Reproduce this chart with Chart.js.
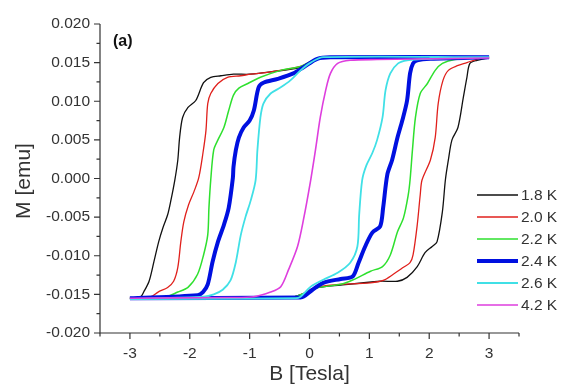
<!DOCTYPE html>
<html>
<head>
<meta charset="utf-8">
<script src="https://cdn.jsdelivr.net/npm/chart.js@4"></script>
<style>
  html, body { margin: 0; padding: 0; background: #fff; }
  canvas { display: block; }
</style>
</head>
<body>
<canvas id="loops" width="568" height="389"></canvas>
<script>
// temperatures (legend labels)
const temps = ["1.8 K", "2.0 K", "2.2 K", "2.4 K", "2.6 K", "4.2 K"];

// [B (T), M (emu)]; "Down" = sweep from +3 T to -3 T, "Up" = back
const loop18Down = [[3.0, 0.0157], [1.1, 0.0158], [0.3, 0.0157], [0.07, 0.0153], [-0.15, 0.0144], [-0.65, 0.0138], [-1.0, 0.0135], [-1.27, 0.0135], [-1.48, 0.0133], [-1.65, 0.0131], [-1.77, 0.0124], [-1.9, 0.0101], [-2.03, 0.0092], [-2.12, 0.0079], [-2.17, 0.0053], [-2.2, 0.0024], [-2.25, -0.0002], [-2.32, -0.003], [-2.37, -0.0047], [-2.45, -0.0064], [-2.52, -0.0082], [-2.6, -0.0108], [-2.68, -0.0133], [-2.77, -0.0147], [-2.82, -0.0153], [-3.0, -0.0155]];
const loop18Up = [[-3.0, -0.0155], [-0.32, -0.0154], [-0.1, -0.0149], [0.1, -0.0142], [0.52, -0.0138], [1.18, -0.0133], [1.47, -0.0133], [1.63, -0.0128], [1.8, -0.0114], [1.93, -0.0096], [2.05, -0.0088], [2.13, -0.0082], [2.22, -0.0043], [2.27, -0.0002], [2.32, 0.0024], [2.38, 0.005], [2.48, 0.0066], [2.57, 0.0105], [2.63, 0.0131], [2.68, 0.0149], [2.8, 0.0153], [3.0, 0.0156]];

const loop20Down = [[3.0, 0.0157], [0.3, 0.0157], [0.07, 0.0153], [-0.15, 0.0145], [-0.65, 0.0138], [-0.98, 0.0135], [-1.15, 0.0133], [-1.37, 0.0131], [-1.53, 0.0123], [-1.65, 0.011], [-1.7, 0.0097], [-1.73, 0.0062], [-1.78, 0.0033], [-1.85, 0.0001], [-1.93, -0.0017], [-2.02, -0.0034], [-2.1, -0.0056], [-2.15, -0.0082], [-2.2, -0.0115], [-2.27, -0.0133], [-2.37, -0.0141], [-2.53, -0.0147], [-2.65, -0.0153], [-3.0, -0.0155]];
const loop20Up = [[-3.0, -0.0155], [-0.32, -0.0154], [-0.1, -0.0149], [0.07, -0.0142], [0.35, -0.0138], [1.02, -0.0135], [1.23, -0.0132], [1.4, -0.0124], [1.57, -0.0115], [1.68, -0.0109], [1.73, -0.0099], [1.8, -0.006], [1.85, -0.0021], [1.88, -0.0002], [2.02, 0.0024], [2.1, 0.0053], [2.15, 0.0097], [2.23, 0.0127], [2.32, 0.014], [2.47, 0.0146], [2.63, 0.015], [2.82, 0.0155], [3.0, 0.0157]];

const loop22Down = [[3.0, 0.0157], [0.3, 0.0157], [0.07, 0.0153], [-0.15, 0.0145], [-0.48, 0.014], [-0.82, 0.0131], [-1.03, 0.0123], [-1.18, 0.0117], [-1.27, 0.0108], [-1.35, 0.0088], [-1.43, 0.0066], [-1.53, 0.005], [-1.6, 0.0037], [-1.65, -0.0002], [-1.68, -0.0038], [-1.7, -0.0073], [-1.77, -0.0099], [-1.87, -0.0124], [-2.03, -0.0141], [-2.2, -0.0147], [-2.4, -0.0153], [-3.0, -0.0155]];
const loop22Up = [[-3.0, -0.0155], [-0.32, -0.0154], [-0.1, -0.0149], [0.1, -0.0142], [0.52, -0.0137], [0.73, -0.0131], [1.02, -0.012], [1.22, -0.0114], [1.35, -0.0099], [1.47, -0.0069], [1.57, -0.0051], [1.65, -0.0021], [1.68, -0.0002], [1.72, 0.0037], [1.77, 0.0079], [1.85, 0.011], [1.97, 0.0123], [2.1, 0.014], [2.22, 0.0149], [2.43, 0.0154], [3.0, 0.0157]];

const loop24Down = [[3.0, 0.0157], [0.35, 0.0157], [0.13, 0.0155], [-0.1, 0.0144], [-0.27, 0.0136], [-0.53, 0.0129], [-0.77, 0.0124], [-0.85, 0.0118], [-0.93, 0.0088], [-1.0, 0.0075], [-1.1, 0.0066], [-1.18, 0.0053], [-1.23, 0.0037], [-1.27, 0.0015], [-1.28, 0.0001], [-1.35, -0.0038], [-1.43, -0.006], [-1.53, -0.0082], [-1.62, -0.0108], [-1.7, -0.0137], [-1.78, -0.0147], [-1.87, -0.0151], [-3.0, -0.0155]];
const loop24Up = [[-3.0, -0.0155], [-0.15, -0.0154], [-0.1, -0.0153], [0.05, -0.0144], [0.23, -0.0135], [0.52, -0.013], [0.72, -0.0127], [0.82, -0.0109], [0.93, -0.0088], [1.05, -0.007], [1.18, -0.0062], [1.23, -0.0038], [1.3, 0.0005], [1.38, 0.0024], [1.47, 0.0053], [1.55, 0.0075], [1.63, 0.0101], [1.68, 0.0136], [1.73, 0.0149], [1.8, 0.0153], [2.02, 0.0155], [3.0, 0.0157]];

const loop26Down = [[3.0, 0.0157], [0.23, 0.0157], [0.02, 0.015], [-0.15, 0.014], [-0.32, 0.0127], [-0.48, 0.0118], [-0.65, 0.011], [-0.77, 0.0097], [-0.82, 0.0079], [-0.87, 0.0037], [-0.9, -0.0002], [-0.98, -0.0028], [-1.07, -0.005], [-1.15, -0.0074], [-1.23, -0.0108], [-1.32, -0.0132], [-1.45, -0.0144], [-1.6, -0.015], [-1.77, -0.0153], [-3.0, -0.0156]];
const loop26Up = [[-3.0, -0.0156], [-0.23, -0.0155], [-0.15, -0.0153], [0.02, -0.014], [0.23, -0.0131], [0.47, -0.0122], [0.68, -0.0109], [0.8, -0.0088], [0.83, -0.0047], [0.88, -0.0002], [0.95, 0.0017], [1.05, 0.0033], [1.13, 0.005], [1.22, 0.0079], [1.27, 0.0114], [1.35, 0.0136], [1.48, 0.0149], [1.63, 0.0153], [2.02, 0.0155], [3.0, 0.0157]];

// 4.2 K shows no visible hysteresis: both sweeps follow the same curve
const loop42Up = [[-3.0, -0.0155], [-1.32, -0.0154], [-0.93, -0.0153], [-0.65, -0.0147], [-0.48, -0.014], [-0.35, -0.0118], [-0.2, -0.0088], [-0.1, -0.0053], [0.02, -0.0002], [0.1, 0.0037], [0.18, 0.0079], [0.27, 0.0114], [0.35, 0.0136], [0.47, 0.0149], [0.68, 0.0153], [1.13, 0.0154], [3.0, 0.0156]];
const loop42Down = loop42Up.slice().reverse();

// axis ticks
const xMajor = [-3, -2, -1, 0, 1, 2, 3];
const xMinor = [-3.5, -2.5, -1.5, -0.5, 0.5, 1.5, 2.5, 3.5];
const yMajor = [-0.02, -0.015, -0.01, -0.005, 0, 0.005, 0.01, 0.015, 0.02];
const yMinor = [-0.0175, -0.0125, -0.0075, -0.0025, 0.0025, 0.0075, 0.0125, 0.0175];

// styles
const lineColors = ["#111111", "#e0201c", "#2ee02e", "#0010e0", "#40e0e6", "#de3ede"];
const lineWidths = [1.3, 1.3, 1.5, 4, 1.8, 1.6];

const branches = [
    [loop18Down, loop18Up],
    [loop20Down, loop20Up],
    [loop22Down, loop22Up],
    [loop24Down, loop24Up],
    [loop26Down, loop26Up],
    [loop42Down, loop42Up]
];

const FONT = "'Liberation Sans', Arial, sans-serif";
const TEXT = "#333333";

const datasets = temps.map(function (t, i) {
    const pts = branches[i][0].concat(branches[i][1]);
    return {
        label: t,
        data: pts.map(p => ({ x: p[0], y: p[1] })),
        borderColor: lineColors[i],
        borderWidth: lineWidths[i],
        pointRadius: 0,
        tension: 0.3,
        fill: false,
        order: temps.length - i
    };
});

const decorPlugin = {
    id: "decor",
    afterDraw(chart) {
        const c = chart.ctx;
        const xs = chart.scales.x, ys = chart.scales.y;
        const left = xs.left, bottom = ys.bottom, top = ys.top, right = xs.right;

        c.save();
        c.strokeStyle = TEXT;
        c.lineWidth = 1.2;
        c.beginPath();
        c.moveTo(left, top);
        c.lineTo(left, bottom);
        c.lineTo(right, bottom);
        c.stroke();

        c.beginPath();
        xMajor.forEach(v => { const px = xs.getPixelForValue(v); c.moveTo(px, bottom); c.lineTo(px, bottom + 6); });
        xMinor.forEach(v => { const px = xs.getPixelForValue(v); c.moveTo(px, bottom); c.lineTo(px, bottom + 3.5); });
        yMajor.forEach(v => { const py = ys.getPixelForValue(v); c.moveTo(left, py); c.lineTo(left - 6, py); });
        yMinor.forEach(v => { const py = ys.getPixelForValue(v); c.moveTo(left, py); c.lineTo(left - 3.5, py); });
        c.stroke();

        // axis titles
        c.fillStyle = TEXT;
        c.font = "21px " + FONT;
        c.textAlign = "center";
        c.textBaseline = "middle";
        c.fillText("B [Tesla]", (left + right) / 2, 374);
        c.save();
        c.translate(24, 181);
        c.rotate(-Math.PI / 2);
        c.fillText("M [emu]", 0, 0);
        c.restore();

        // panel label
        c.fillStyle = "#111";
        c.font = "bold 16px " + FONT;
        c.textAlign = "left";
        c.fillText("(a)", 113, 42);

        // legend
        c.font = "15.5px " + FONT;
        chart.data.datasets.forEach(function (ds, i) {
            const y = 195 + 22 * i;
            c.strokeStyle = ds.borderColor;
            c.lineWidth = ds.borderWidth;
            c.beginPath();
            c.moveTo(477, y);
            c.lineTo(518, y);
            c.stroke();
            c.fillStyle = TEXT;
            c.fillText(ds.label, 521, y + 1);
        });
        c.restore();
    }
};

new Chart(document.getElementById("loops").getContext("2d"), {
    type: "line",
    data: { datasets: datasets },
    options: {
        responsive: false,
        animation: false,
        layout: { padding: { top: 24, right: 49, left: 0, bottom: 0 } },
        plugins: {
            legend: { display: false },
            tooltip: { enabled: false }
        },
        scales: {
            x: {
                type: "linear",
                min: -3.5,
                max: 3.5,
                grid: { display: false, drawTicks: false },
                border: { display: false },
                afterBuildTicks: s => { s.ticks = xMajor.map(v => ({ value: v })); },
                afterFit: s => { s.height = 56; },
                ticks: {
                    padding: 11,
                    autoSkip: false,
                    maxRotation: 0,
                    color: TEXT,
                    font: { family: FONT, size: 15.5 },
                    callback: v => String(v)
                }
            },
            y: {
                type: "linear",
                min: -0.02,
                max: 0.02,
                grid: { display: false, drawTicks: false },
                border: { display: false },
                afterBuildTicks: s => { s.ticks = yMajor.map(v => ({ value: v })); },
                afterFit: s => { s.width = 100; },
                ticks: {
                    padding: 10,
                    autoSkip: false,
                    color: TEXT,
                    font: { family: FONT, size: 15.5 },
                    callback: v => v.toFixed(3)
                }
            }
        }
    },
    plugins: [decorPlugin]
});
</script>
</body>
</html>
